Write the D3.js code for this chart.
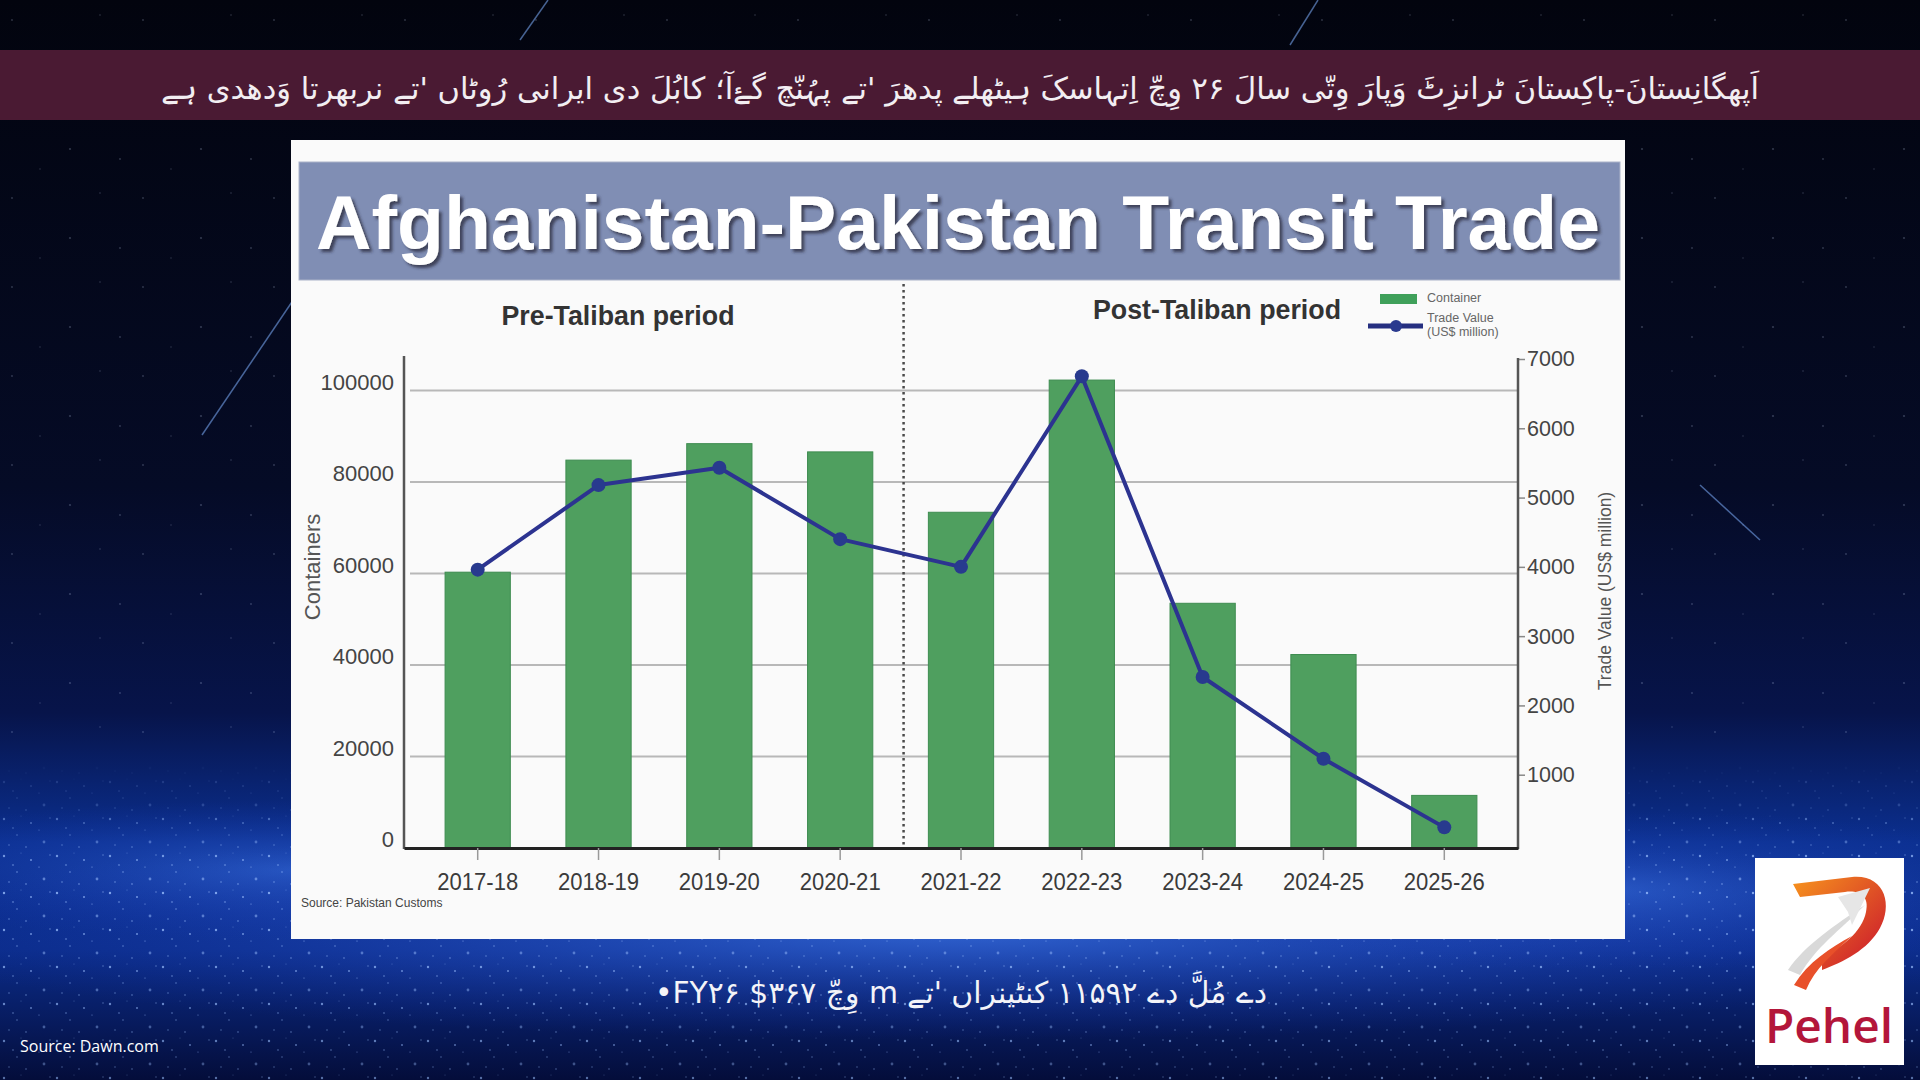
<!DOCTYPE html>
<html><head><meta charset="utf-8">
<script src="https://cdn.jsdelivr.net/npm/d3@7"></script>
<style>html,body{margin:0;padding:0;background:#040818;overflow:hidden}</style>
</head><body><svg id="c" width="1920" height="1080" xmlns="http://www.w3.org/2000/svg"></svg>
<script>
// ---------- data ----------
const years = ["2017-18","2018-19","2019-20","2020-21","2021-22","2022-23","2023-24","2024-25","2025-26"];
const containers = [60300, 84800, 88400, 86600, 73400, 102300, 53500, 42300, 11500];
const tradeValue = [3960, 5180, 5430, 4400, 4000, 6750, 2410, 1230, 240];
const leftTicks = [0, 20000, 40000, 60000, 80000, 100000];
const rightTicks = [1000, 2000, 3000, 4000, 5000, 6000, 7000];
const periodLabels = ["Pre-Taliban period", "Post-Taliban period"];
const legendLabels = ["Container", "Trade Value", "(US$ million)"];
const chartTitle = "Afghanistan-Pakistan Transit Trade";
const leftAxisTitle = "Containers";
const rightAxisTitle = "Trade Value (US$ million)";
const sourceNote = "Source: Pakistan Customs";
const headline = "اَپھگانِستانَ-پاکِستانَ ٹرانزِٹَ وَپارَ وِتّی سالَ ۲۶ وِچّ اِتہاسکَ ہیٹھلے پدھرَ 'تے پہُنّچ گۓآ؛ کابُلَ دی ایرانی رُوٹاں 'تے نربھرتا وَدھدی ہے";
const caption = "دے مُلَّ دے ۱۱۵۹۲ کنٹینراں 'تے m وِچّ ۳۶۷$ FY۲۶•";
const pageSource = "Source: Dawn.com";
const brand = "Pehel";

const svg = d3.select("#c");
const defs = svg.append("defs");
const SANS = "Liberation Sans, Arial, sans-serif";

function fit(sel, w){
  const l = sel.node().getComputedTextLength();
  const fs = parseFloat(sel.attr("font-size"));
  if (l > 0) sel.attr("font-size", fs * w / l);
  return sel;
}

// ---------- background ----------
const bg = defs.append("linearGradient").attr("id","bg").attr("x1",0).attr("y1",0).attr("x2",0).attr("y2",1);
[["0%","#02040e"],["45%","#050b26"],["66%","#07144a"],["78%","#0b2f8f"],["88%","#0b2c8a"],["100%","#040d3a"]]
  .forEach(s=>bg.append("stop").attr("offset",s[0]).attr("stop-color",s[1]));
svg.append("rect").attr("width",1920).attr("height",1080).attr("fill","url(#bg)");

const glow = defs.append("radialGradient").attr("id","glow").attr("cx","50%").attr("cy","50%").attr("r","50%");
glow.append("stop").attr("offset","0%").attr("stop-color","#4a88ff").attr("stop-opacity",0.6);
glow.append("stop").attr("offset","100%").attr("stop-color","#1a3cc0").attr("stop-opacity",0);
svg.append("ellipse").attr("cx",960).attr("cy",930).attr("rx",1100).attr("ry",110).attr("fill","url(#glow)");
svg.append("ellipse").attr("cx",300).attr("cy",870).attr("rx",500).attr("ry",70).attr("fill","url(#glow)").attr("opacity",0.7);
svg.append("ellipse").attr("cx",1600).attr("cy",890).attr("rx",500).attr("ry",80).attr("fill","url(#glow)").attr("opacity",0.7);

const pat = defs.append("pattern").attr("id","stars").attr("patternUnits","userSpaceOnUse").attr("width",53).attr("height",37);
[[4,5,1.2,0.9],[17,21,0.8,0.7],[31,9,1.0,0.8],[44,28,1.4,0.6],[9,31,0.7,0.8],[26,33,0.9,0.5],[39,16,0.6,0.9],[50,4,0.8,0.6],[21,2,0.6,0.5],[13,14,1.1,0.45]]
  .forEach(s=>pat.append("circle").attr("cx",s[0]).attr("cy",s[1]).attr("r",s[2]).attr("fill","#9cc0ff").attr("opacity",s[3]));
const fadeMask = defs.append("linearGradient").attr("id","fadeG").attr("x1",0).attr("y1",0).attr("x2",0).attr("y2",1);
fadeMask.append("stop").attr("offset","0%").attr("stop-color","#fff").attr("stop-opacity",0);
fadeMask.append("stop").attr("offset","35%").attr("stop-color","#fff").attr("stop-opacity",0.9);
fadeMask.append("stop").attr("offset","100%").attr("stop-color","#fff").attr("stop-opacity",0.6);
defs.append("mask").attr("id","fm").append("rect").attr("x",0).attr("y",760).attr("width",1920).attr("height",320).attr("fill","url(#fadeG)");
svg.append("rect").attr("x",0).attr("y",760).attr("width",1920).attr("height",320).attr("fill","url(#stars)").attr("mask","url(#fm)");
const pat2 = defs.append("pattern").attr("id","stars2").attr("patternUnits","userSpaceOnUse").attr("width",131).attr("height",89);
[[12,20,0.9],[70,60,1.1],[100,15,0.8],[40,80,0.7],[120,70,0.9]]
  .forEach(s=>pat2.append("circle").attr("cx",s[0]).attr("cy",s[1]).attr("r",s[2]).attr("fill","#cfe0ff").attr("opacity",0.5));
svg.append("rect").attr("x",0).attr("y",0).attr("width",1920).attr("height",760).attr("fill","url(#stars2)").attr("opacity",0.45);

[[202,435,300,290],[1290,45,1318,0],[1700,485,1760,540],[548,0,520,40]].forEach(l=>{
  svg.append("line").attr("x1",l[0]).attr("y1",l[1]).attr("x2",l[2]).attr("y2",l[3])
    .attr("stroke","#7fb0ff").attr("stroke-opacity",0.55).attr("stroke-width",1.5);
});

// ---------- headline band ----------
svg.append("rect").attr("x",0).attr("y",50).attr("width",1920).attr("height",70).attr("fill","#4a1a33");
const hl = svg.append("text").attr("x",960).attr("y",88).attr("text-anchor","middle").attr("dominant-baseline","central")
  .attr("direction","rtl").attr("font-family","DejaVu Sans").attr("font-size",32).attr("fill","#f2eef2").text(headline);
fit(hl, 1600);

// ---------- chart card ----------
svg.append("rect").attr("x",291).attr("y",140).attr("width",1334).attr("height",799).attr("fill","#fafafa");
svg.append("rect").attr("x",299).attr("y",162).attr("width",1321).attr("height",118).attr("fill","#808eb4").attr("stroke","#aab2c8").attr("stroke-width",1);
const sh = defs.append("filter").attr("id","tsh").attr("x","-5%").attr("y","-20%").attr("width","110%").attr("height","140%");
sh.append("feDropShadow").attr("dx",3).attr("dy",3).attr("stdDeviation",1.5).attr("flood-color","#2a2a3a").attr("flood-opacity",0.75);
const tt = svg.append("text").attr("x",958).attr("y",249).attr("text-anchor","middle")
  .attr("font-family",SANS).attr("font-weight","bold").attr("font-size",76)
  .attr("fill","#ffffff").attr("filter","url(#tsh)").text(chartTitle);
fit(tt, 1284);

// ---------- scales ----------
const x = d3.scaleBand().domain(years).range([404,1518]).paddingInner(0.46).paddingOuter(0.34);
const yL = d3.scaleLinear().domain([0,108000]).range([848,354]);
const yR = d3.scaleLinear().domain([0,7000]).range([844,359]);

// gridlines
svg.append("g").selectAll("line").data(leftTicks.filter(d=>d>0)).join("line")
  .attr("x1",410).attr("x2",1518).attr("y1",d=>yL(d)).attr("y2",d=>yL(d))
  .attr("stroke","#b8b8b8").attr("stroke-width",2);

// period divider
const divX = (x(years[3]) + x.bandwidth() + x(years[4])) / 2 + 3;
svg.append("line").attr("x1",divX).attr("x2",divX).attr("y1",284).attr("y2",848)
  .attr("stroke","#4a4a4a").attr("stroke-width",2.5).attr("stroke-dasharray","2.5,3.5");

// bars
svg.append("g").selectAll("rect").data(years).join("rect")
  .attr("x",d=>x(d)).attr("width",x.bandwidth())
  .attr("y",(d,i)=>yL(containers[i])).attr("height",(d,i)=>yL(0)-yL(containers[i]))
  .attr("fill","#4f9f5f").attr("stroke","#3e8c50").attr("stroke-width",1);

// axes
const axL = svg.append("g").attr("transform","translate(404,0)")
  .call(d3.axisLeft(yL).tickValues(leftTicks).tickSize(0).tickPadding(10).tickFormat(d3.format("d")));
axL.select(".domain").remove();
axL.selectAll("text").attr("font-family",SANS).attr("font-size",22).attr("fill","#444").attr("dy","-0.05em");
svg.append("line").attr("x1",404).attr("x2",404).attr("y1",356).attr("y2",849).attr("stroke","#555").attr("stroke-width",2.5);

const axR = svg.append("g").attr("transform","translate(1518,0)")
  .call(d3.axisRight(yR).tickValues(rightTicks).tickSize(7).tickPadding(2).tickFormat(d3.format("d")));
axR.select(".domain").remove();
axR.selectAll(".tick line").attr("stroke","#888").attr("stroke-width",1.5);
axR.selectAll("text").attr("font-family",SANS).attr("font-size",21.5).attr("fill","#444");
svg.append("line").attr("x1",1518).attr("x2",1518).attr("y1",358).attr("y2",849).attr("stroke","#555").attr("stroke-width",2.5);

const axB = svg.append("g").attr("transform","translate(0,848)")
  .call(d3.axisBottom(x).tickSize(12).tickSizeOuter(0).tickPadding(14));
axB.select(".domain").attr("stroke","#222").attr("stroke-width",3);
axB.selectAll(".tick line").attr("stroke","#999").attr("stroke-width",1.5);
axB.selectAll("text").attr("font-family",SANS).attr("font-size",23).attr("fill","#3a3a3a")
  .attr("textLength",81).attr("lengthAdjust","spacingAndGlyphs");

// axis titles
svg.append("text").attr("transform","translate(320,567) rotate(-90)").attr("text-anchor","middle")
  .attr("font-family",SANS).attr("font-size",22).attr("fill","#555").text(leftAxisTitle);
svg.append("text").attr("transform","translate(1611,591) rotate(-90)").attr("text-anchor","middle")
  .attr("font-family",SANS).attr("font-size",17.5).attr("fill","#555").text(rightAxisTitle);

// line series
const line = d3.line().x((d,i)=>x(years[i]) + x.bandwidth()/2).y(d=>yR(d));
svg.append("path").datum(tradeValue).attr("d",line).attr("fill","none")
  .attr("stroke","#2c3390").attr("stroke-width",4).attr("stroke-linejoin","round");
svg.append("g").selectAll("circle").data(tradeValue).join("circle")
  .attr("cx",(d,i)=>x(years[i]) + x.bandwidth()/2).attr("cy",d=>yR(d)).attr("r",7)
  .attr("fill","#283a8e");

// period labels
const pl = [[618,316,233],[1217,310,248]];
periodLabels.forEach((t,i)=>{
  svg.append("text").attr("x",pl[i][0]).attr("y",pl[i][1]+9).attr("text-anchor","middle")
    .attr("font-family",SANS).attr("font-weight","bold").attr("font-size",27)
    .attr("textLength",pl[i][2]).attr("lengthAdjust","spacingAndGlyphs")
    .attr("fill","#333").text(t);
});

// legend
svg.append("rect").attr("x",1380).attr("y",294).attr("width",37).attr("height",10).attr("fill","#3fa05a");
svg.append("line").attr("x1",1368).attr("x2",1423).attr("y1",326).attr("y2",326).attr("stroke","#252f80").attr("stroke-width",5);
svg.append("circle").attr("cx",1396).attr("cy",326).attr("r",6).attr("fill","#2a3a8e");
const lg = [[1427,302],[1427,322],[1427,336]];
legendLabels.forEach((t,i)=>svg.append("text").attr("x",lg[i][0]).attr("y",lg[i][1])
  .attr("font-family",SANS).attr("font-size",12.5).attr("fill","#666").text(t));

// source note
svg.append("text").attr("x",301).attr("y",907).attr("font-family",SANS)
  .attr("font-size",12).attr("fill","#444").text(sourceNote);

// ---------- caption ----------
const cap = svg.append("text").attr("x",961).attr("y",992).attr("text-anchor","middle").attr("dominant-baseline","central")
  .attr("direction","rtl").attr("font-family","DejaVu Sans").attr("font-size",30).attr("fill","#f4f4f8").text(caption);
fit(cap, 612);

svg.append("text").attr("x",20).attr("y",1052).attr("font-family","Open Sans, Liberation Sans, sans-serif")
  .attr("font-size",16).attr("fill","#ffffff").text(pageSource);

// ---------- logo ----------
svg.append("rect").attr("x",1755).attr("y",858).attr("width",149).attr("height",207).attr("fill","#ffffff");
const lgG = defs.append("linearGradient").attr("id","lgo").attr("x1",0).attr("y1",0).attr("x2",1).attr("y2",1);
lgG.append("stop").attr("offset","0%").attr("stop-color","#f7941d");
lgG.append("stop").attr("offset","100%").attr("stop-color","#c8102e");
const lg2 = defs.append("linearGradient").attr("id","lgo2").attr("x1",0).attr("y1",0).attr("x2",0).attr("y2",1);
lg2.append("stop").attr("offset","0%").attr("stop-color","#f47a20");
lg2.append("stop").attr("offset","100%").attr("stop-color","#b5122e");
svg.append("path").attr("d","M1793,884 L1852,877 C1885,874 1893,905 1880,928 C1868,950 1843,962 1822,970 L1822,957 C1842,947 1862,932 1866,912 C1870,895 1858,890 1845,892 L1800,897 Z").attr("fill","url(#lgo)");
svg.append("path").attr("d","M1806,968 C1812,962 1822,960 1830,958 L1831,1003 L1814,1003 C1812,992 1810,978 1806,968 Z").attr("fill","url(#lg2)");
svg.append("path").attr("d","M1788,970 C1805,945 1835,925 1865,905 C1840,930 1815,948 1800,975 Z").attr("fill","#d9d9d9");
svg.append("path").attr("d","M1794,985 C1808,962 1830,948 1852,936 C1832,955 1815,968 1806,990 Z").attr("fill","#e8502a");
svg.append("path").attr("d","M1838,897 L1870,888 L1852,925 L1848,912 Z").attr("fill","#e6e6e6");
const br = svg.append("text").attr("x",1829).attr("y",1043).attr("text-anchor","middle")
  .attr("font-family","Open Sans, Liberation Sans, sans-serif").attr("font-weight","600").attr("font-size",46)
  .attr("fill","#b3163a").text(brand);
fit(br, 128);
</script>
</body></html>
